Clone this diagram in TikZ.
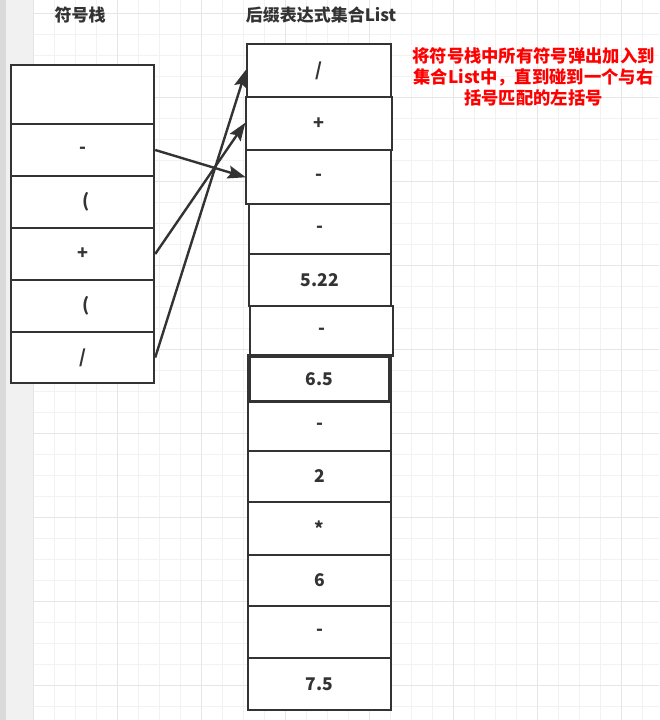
\documentclass[tikz,border=0pt]{standalone}
\usepackage{fontspec}
\setmainfont{Noto Sans CJK SC}
\usetikzlibrary{arrows.meta}
\definecolor{ink}{HTML}{333333}
\definecolor{gridminor}{HTML}{F2F2F2}
\definecolor{gridmajor}{HTML}{E6E6E6}
\definecolor{stripdark}{HTML}{DADADA}
\definecolor{striplight}{HTML}{F1F1F1}
\definecolor{notered}{HTML}{FF0000}
\tikzset{
  cell/.style={draw=ink, line width=2.4pt, fill=white, rectangle, inner sep=0pt, text=ink,
    font=\fontsize{18}{20}\selectfont\bfseries},
  numcell/.style={cell, font=\fontsize{17.5}{20}\selectfont\bfseries},
  title/.style={text=ink, font=\fontsize{17}{20}\selectfont\bfseries, inner sep=0pt},
  note/.style={text=notered, font=\fontsize{17.3}{21}\selectfont\bfseries, align=center, inner sep=0pt},
  pushpop/.style={draw=ink, line width=2.4pt, -{Stealth[length=18pt,width=13pt,inset=3pt]}, shorten >=-1pt},
}
\begin{document}
\begin{tikzpicture}[x=1pt,y=-1pt]
\useasboundingbox (0,0) rectangle (659,720);
% background
\fill[white] (0,0) rectangle (659,720);
\fill[striplight] (0,0) rectangle (33,720);
\fill[stripdark] (0,0) rectangle (6,720);
\foreach \i in {0,...,30} {
  \draw[gridminor, line width=1pt] ({33.7+21*\i},0) -- ({33.7+21*\i},720);
}
\foreach \j in {0,...,34} {
  \draw[gridminor, line width=1pt] (33,{13.7+21*\j}) -- (659,{13.7+21*\j});
}
\foreach \i in {0,...,7} {
  \draw[gridmajor, line width=1pt] ({33.7+84*\i},0) -- ({33.7+84*\i},720);
}
\foreach \j in {0,...,8} {
  \draw[gridmajor, line width=1pt] (33,{13.7+84*\j}) -- (659,{13.7+84*\j});
}
% titles
\node[title] (t1) at (80,15) {符号栈};
\node[title] (t2) at (321,15) {后缀表达式集合List};
\node[note] (n1) at (533.5,77) {将符号栈中所有符号弹出加入到\\集合List中，直到碰到一个与右\\括号匹配的左括号};
% left stack
\node[cell, minimum width=143pt, minimum height=59pt] (L1) at (82.5,94.5) {};
\node[cell, minimum width=143pt, minimum height=52pt] (L2) at (82.5,150) {-};
\node[cell, minimum width=143pt, minimum height=52pt] (L3) at (82.5,202) {\hspace*{7pt}(};
\node[cell, minimum width=143pt, minimum height=52pt] (L4) at (82.5,254) {+};
\node[cell, minimum width=143pt, minimum height=52pt] (L5) at (82.5,306) {\hspace*{7pt}(};
\node[cell, minimum width=143pt, minimum height=51pt] (L6) at (82.5,357.5) {/};
% right list
\node[cell, minimum width=144pt, minimum height=53pt] (R1) at (319,70.5) {/};
\node[cell, minimum width=146pt, minimum height=53pt] (R2) at (319,123.5) {+};
\node[cell, minimum width=145pt, minimum height=54pt] (R3) at (318.5,177) {-};
\node[cell, minimum width=142pt, minimum height=50pt] (R4) at (320,229) {-};
\node[numcell, minimum width=142pt, minimum height=52pt] (R5) at (320,280) {5.22};
\node[cell, minimum width=143pt, minimum height=50pt] (R6) at (321.5,331) {-};
\node[numcell, line width=3.2pt, minimum width=141pt, minimum height=46pt] (R7) at (319.5,379) {6.5};
\node[cell, minimum width=143pt, minimum height=49pt] (R8) at (319.5,426.5) {-};
\node[numcell, minimum width=143pt, minimum height=51pt] (R9) at (319.5,476.5) {2};
\node[cell, minimum width=143pt, minimum height=53pt] (R10) at (319.5,528.5) {*};
\node[numcell, minimum width=143pt, minimum height=51pt] (R11) at (319.5,580.5) {6};
\node[cell, minimum width=143pt, minimum height=52pt] (R12) at (319.5,632) {-};
\node[numcell, minimum width=143pt, minimum height=52pt] (R13) at (319.5,684) {7.5};
% arrows
\draw[pushpop] (L2.east) -- (R3.west);
\draw[pushpop] (L4.east) -- (R2.west);
\draw[pushpop] (L6.east) -- (R1.west);
\end{tikzpicture}
\end{document}
